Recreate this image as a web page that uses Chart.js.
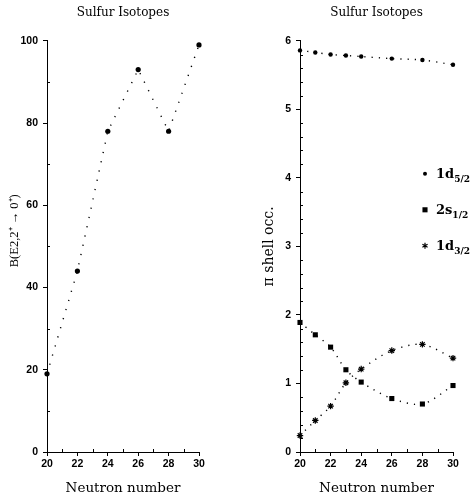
<!DOCTYPE html>
<html>
<head>
<meta charset="utf-8">
<script src="https://cdn.jsdelivr.net/npm/chart.js@4/dist/chart.umd.min.js"></script>
<style>
html, body { margin: 0; padding: 0; background: #fff; overflow: hidden; }
#wrap { position: relative; width: 474px; height: 495px; }
canvas { position: absolute; top: 0; }
</style>
</head>
<body>
<div id="wrap">
  <canvas id="leftChart" width="237" height="495" style="left:0"></canvas>
  <canvas id="rightChart" width="237" height="495" style="left:237px"></canvas>
</div>
<script>
// ---- data ----
const chartTitle = 'Sulfur Isotopes';
const xTitle = 'Neutron number';
const leftYTitle = 'B(E2,2\u207A \u2192 0\u207A)';
const rightYTitle = '\u03C0 shell occ.';

const neutronsLeft = [20, 22, 24, 26, 28, 30];
const be2Values = [19, 44, 78, 93, 78, 99];

const neutronsRight = [20, 21, 22, 23, 24, 26, 28, 30];
const occ1d52 = [5.86, 5.83, 5.80, 5.785, 5.77, 5.74, 5.72, 5.65];
const occ2s12 = [1.89, 1.71, 1.53, 1.20, 1.02, 0.78, 0.70, 0.97];
const occ1d32 = [0.24, 0.46, 0.67, 1.01, 1.21, 1.48, 1.57, 1.37];

const seriesMain = ['1d', '2s', '1d'];
const seriesSub = ['5/2', '1/2', '3/2'];
const seriesStyles = ['circle', 'rect', 'star'];

const xTicks = [20, 22, 24, 26, 28, 30];
const xMinorTicks = [21, 23, 25, 27, 29];
const leftYTicks = [0, 20, 40, 60, 80, 100];
const leftYMinorTicks = [10, 30, 50, 70, 90];
const rightYTicks = [0, 1, 2, 3, 4, 5, 6];
const rightYMinorTicks = [0.2, 0.4, 0.6, 0.8, 1.2, 1.4, 1.6, 1.8, 2.2, 2.4, 2.6, 2.8,
  3.2, 3.4, 3.6, 3.8, 4.2, 4.4, 4.6, 4.8, 5.2, 5.4, 5.6, 5.8];

// ---- plugins ----
const minorTicksPlugin = {
  id: 'minorTicks',
  afterDatasetsDraw(chart, args, opts) {
    const { ctx, chartArea: a, scales: { x, y } } = chart;
    ctx.save();
    ctx.strokeStyle = '#000';
    ctx.lineWidth = 1;
    ctx.beginPath();
    (opts.x || []).forEach(v => {
      const px = Math.round(x.getPixelForValue(v)) + 0.5;
      ctx.moveTo(px, a.bottom);
      ctx.lineTo(px, a.bottom - 3);
    });
    (opts.y || []).forEach(v => {
      const py = Math.round(y.getPixelForValue(v)) + 0.5;
      ctx.moveTo(a.left, py);
      ctx.lineTo(a.left + 3, py);
    });
    ctx.stroke();
    ctx.restore();
  }
};

function drawMarker(ctx, style, x, y, r) {
  ctx.beginPath();
  if (style === 'circle') {
    ctx.arc(x, y, r, 0, Math.PI * 2);
    ctx.fill();
  } else if (style === 'rect') {
    const s = r * Math.SQRT1_2;
    ctx.fillRect(x - s, y - s, 2 * s, 2 * s);
  } else {
    for (let k = 0; k < 3; k++) {
      const ang = Math.PI / 2 + k * Math.PI / 3;
      ctx.moveTo(x - r * Math.cos(ang), y - r * Math.sin(ang));
      ctx.lineTo(x + r * Math.cos(ang), y + r * Math.sin(ang));
    }
    ctx.stroke();
  }
}

const subLegendPlugin = {
  id: 'subLegend',
  afterDraw(chart, args, opts) {
    const { ctx, chartArea: a } = chart;
    ctx.save();
    ctx.fillStyle = '#000';
    ctx.strokeStyle = '#000';
    ctx.lineWidth = 1.2;
    ctx.textBaseline = 'alphabetic';
    ctx.textAlign = 'left';
    chart.data.datasets.forEach((ds, i) => {
      const yy = a.top + opts.top + i * opts.gap;
      const mx = a.right - opts.markerOffset;
      drawMarker(ctx, seriesStyles[i], mx, yy, seriesStyles[i] === 'rect' ? 3.6 : (seriesStyles[i] === 'circle' ? 2 : 3));
      const tx = a.right - opts.textOffset;
      ctx.font = 'bold 13px "DejaVu Serif"';
      ctx.fillText(seriesMain[i], tx, yy + 4.5);
      const w = ctx.measureText(seriesMain[i]).width;
      ctx.font = 'bold 9px "DejaVu Serif"';
      ctx.fillText(seriesSub[i], tx + w, yy + 8);
    });
    ctx.restore();
  }
};

// ---- shared config helpers ----
const tickFont = { family: '"Liberation Sans", Arial, sans-serif', size: 10.5, weight: 'bold' };
const titleFont = { family: '"DejaVu Serif", serif', size: 12, weight: 'normal', lineHeight: 1.2 };
const xTitleFont = { family: '"DejaVu Serif", serif', size: 13.5, weight: 'normal', lineHeight: 1 };

function xScale() {
  return {
    type: 'linear', min: 20, max: 30,
    afterBuildTicks: s => { s.ticks = xTicks.map(v => ({ value: v })); },
    afterFit: s => { s.height = 43; },
    ticks: { color: '#000', font: tickFont, padding: 2, autoSkip: false, maxRotation: 0, callback: v => String(v) },
    grid: { drawOnChartArea: false, drawTicks: true, tickLength: 4, tickColor: '#000', tickWidth: 1 },
    border: { display: true, color: '#000', width: 1 },
    title: { display: true, text: xTitle, color: '#000', font: xTitleFont, padding: { top: 0, bottom: 0 } }
  };
}

function yScale(min, max, ticks, width, title, titleFontY, titlePadTop) {
  return {
    type: 'linear', min, max,
    afterBuildTicks: s => { s.ticks = ticks.map(v => ({ value: v })); },
    afterFit: s => { s.width = width; },
    ticks: { color: '#000', font: tickFont, padding: 5, autoSkip: false, callback: v => String(v) },
    grid: { drawOnChartArea: false, drawTicks: true, tickLength: 4, tickColor: '#000', tickWidth: 1 },
    border: { display: true, color: '#000', width: 1 },
    title: { display: true, text: title, color: '#000', font: titleFontY, padding: { top: titlePadTop, bottom: 0 } }
  };
}

function commonPlugins(extra) {
  return Object.assign({
    legend: { display: false },
    tooltip: { enabled: false },
    title: {
      display: true, text: chartTitle, color: '#000', fullSize: false,
      font: titleFont, padding: { top: 6, bottom: 20.4 }
    }
  }, extra);
}

// ---- left chart ----
new Chart(document.getElementById('leftChart'), {
  type: 'line',
  data: {
    datasets: [{
      label: 'B(E2)',
      data: neutronsLeft.map((n, i) => ({ x: n, y: be2Values[i] })),
      borderColor: '#000', borderWidth: 1.4, borderDash: [1.2, 8.3],
      pointStyle: 'circle', pointRadius: 2.6, pointBackgroundColor: '#000', pointBorderWidth: 0,
      tension: 0, clip: false
    }]
  },
  options: {
    responsive: false, animation: false, devicePixelRatio: 1,
    layout: { padding: { left: 0, right: 38, top: 0, bottom: 0 } },
    plugins: commonPlugins({ minorTicks: { x: xMinorTicks, y: leftYMinorTicks } }),
    scales: {
      x: xScale(),
      y: yScale(0, 100, leftYTicks, 47, '\u00A0'.repeat(10) + leftYTitle,
        { family: '"Liberation Serif", serif', size: 12.5, weight: 'normal', lineHeight: 1.2 }, 7.5)
    }
  },
  plugins: [minorTicksPlugin]
});

// ---- right chart ----
function rightDataset(i, values) {
  return {
    label: seriesMain[i] + seriesSub[i],
    data: neutronsRight.map((n, k) => ({ x: n, y: values[k] })),
    borderColor: '#000', borderWidth: 1.4, borderDash: [1.2, 6],
    pointStyle: seriesStyles[i],
    pointRadius: seriesStyles[i] === 'rect' ? 3.6 : (seriesStyles[i] === 'circle' ? 2.2 : 3.2),
    pointBackgroundColor: '#000', pointBorderColor: '#000',
    pointBorderWidth: seriesStyles[i] === 'star' ? 1.2 : 0,
    tension: 0.3, clip: false
  };
}

new Chart(document.getElementById('rightChart'), {
  type: 'line',
  data: {
    datasets: [
      rightDataset(0, occ1d52),
      rightDataset(1, occ2s12),
      rightDataset(2, occ1d32)
    ]
  },
  options: {
    responsive: false, animation: false, devicePixelRatio: 1,
    layout: { padding: { left: 0, right: 21, top: 0, bottom: 0 } },
    plugins: commonPlugins({
      minorTicks: { x: xMinorTicks, y: rightYMinorTicks },
      subLegend: { top: 133, gap: 36, markerOffset: 28, textOffset: 17 }
    }),
    scales: {
      x: xScale(),
      y: yScale(0, 6, rightYTicks, 63, rightYTitle,
        { family: '"DejaVu Serif", serif', size: 14, weight: 'normal', lineHeight: 1.2 }, 24)
    }
  },
  plugins: [minorTicksPlugin, subLegendPlugin]
});
</script>
</body>
</html>
